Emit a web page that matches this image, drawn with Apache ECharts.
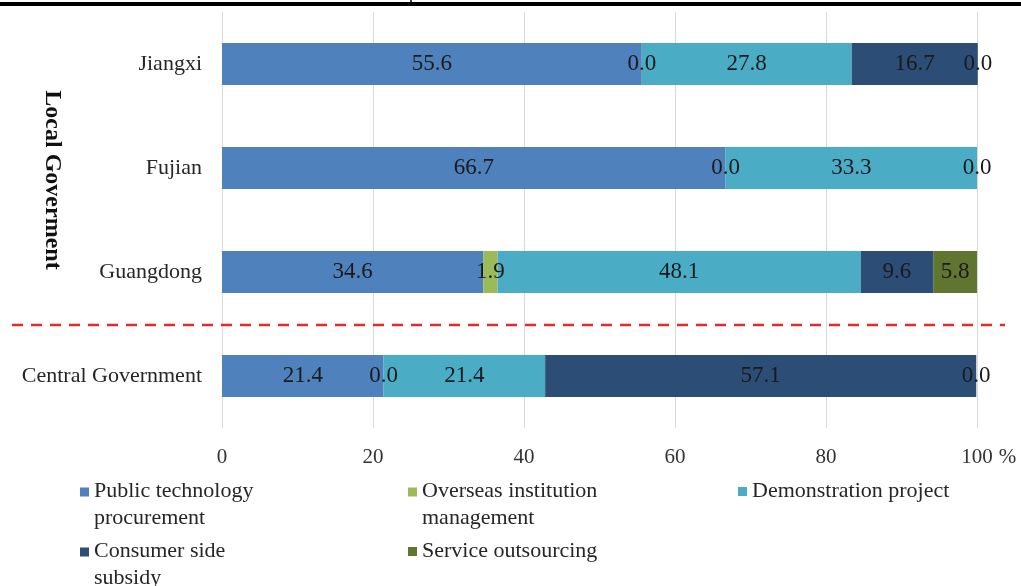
<!DOCTYPE html>
<html>
<head>
<meta charset="utf-8">
<script src="https://cdn.jsdelivr.net/npm/echarts@6/dist/echarts.min.js"></script>
<style>html,body{margin:0;padding:0;background:#fff;}#c{width:1021px;height:586px;}</style>
</head>
<body>
<div id="c"></div>
<script>
const categories = ['Central Government', 'Guangdong', 'Fujian', 'Jiangxi'];
const seriesNames = ['Public technology\nprocurement', 'Overseas institution\nmanagement', 'Demonstration project', 'Consumer side\nsubsidy', 'Service outsourcing'];
const publicTech = [21.4, 34.6, 66.7, 55.6];
const overseas = [0.0, 1.9, 0.0, 0.0];
const demonstration = [21.4, 48.1, 33.3, 27.8];
const consumer = [57.1, 9.6, 0.0, 16.7];
const service = [0.0, 5.8, 0.0, 0.0];
const xTicks = [0, 20, 40, 60, 80, 100];
const colors = ['#4f81bd', '#9bbb59', '#4bacc6', '#2c4d75', '#5f7530'];
const seriesData = [publicTech, overseas, demonstration, consumer, service];

const FONT = 'Liberation Serif';
const chart = echarts.init(document.getElementById('c'));

const legendPos = [[80, 478], [408, 478], [738, 478], [80, 538], [408, 538]];
const twoLineIcon = 'path://M0,0H9V9H0Z M0,35H0.01V34.99Z';

const option = {
  backgroundColor: '#fff',
  animation: false,
  grid: { left: 222, right: 44, top: 12, height: 416, containLabel: false },
  xAxis: {
    type: 'value', min: xTicks[0], max: xTicks[xTicks.length - 1], interval: 20,
    axisLine: { show: false }, axisTick: { show: false },
    splitLine: { lineStyle: { color: '#d9d9d9', width: 1 } },
    axisLabel: { fontFamily: FONT, fontSize: 21, color: '#333', margin: 19 },
    name: '%', nameLocation: 'end', nameGap: 21,
    nameTextStyle: { fontFamily: FONT, fontSize: 21, color: '#333', verticalAlign: 'top', padding: [19, 0, 0, 0] }
  },
  yAxis: {
    type: 'category', data: categories,
    axisLine: { show: false }, axisTick: { show: false },
    axisLabel: { fontFamily: FONT, fontSize: 22, color: '#262626', margin: 20 }
  },
  legend: seriesNames.map((n, i) => {
    const twoLine = n.indexOf('\n') >= 0;
    return {
      data: [n], left: legendPos[i][0], top: legendPos[i][1], padding: 0,
      icon: twoLine ? twoLineIcon : 'rect', itemWidth: 9, itemHeight: twoLine ? 35 : 9, selectedMode: false,
      textStyle: { fontFamily: FONT, fontSize: 22, color: '#262626', lineHeight: 27 }
    };
  }),
  series: seriesNames.map((n, i) => ({
    name: n, type: 'bar', stack: 'total', barWidth: 42, clip: false,
    data: seriesData[i],
    itemStyle: { color: colors[i] },
    labelLayout: { hideOverlap: true },
    label: {
      show: true, position: 'inside', fontFamily: FONT, fontSize: 23, color: '#1a1a1a',
      formatter: p => Number(p.value).toFixed(1)
    }
  })),
  graphic: [
    { type: 'rect', shape: { x: 0, y: 2, width: 1021, height: 4 }, style: { fill: '#000' }, z: 100 },
    { type: 'line', shape: { x1: 411, y1: 0, x2: 411, y2: 4 }, style: { stroke: '#000', lineWidth: 1.5 }, z: 100 },
    { type: 'line', shape: { x1: 12, y1: 325, x2: 1005, y2: 325 }, style: { stroke: '#e8282b', lineWidth: 2.5, lineDash: [11, 8] }, z: 100 },
    { type: 'text', x: 52, y: 180, rotation: -Math.PI / 2,
      style: { text: 'Local Goverment', fontFamily: FONT, fontSize: 24, fontWeight: 'bold', fill: '#111', align: 'center', verticalAlign: 'middle' } }
  ]
};
chart.setOption(option);
</script>
</body>
</html>
